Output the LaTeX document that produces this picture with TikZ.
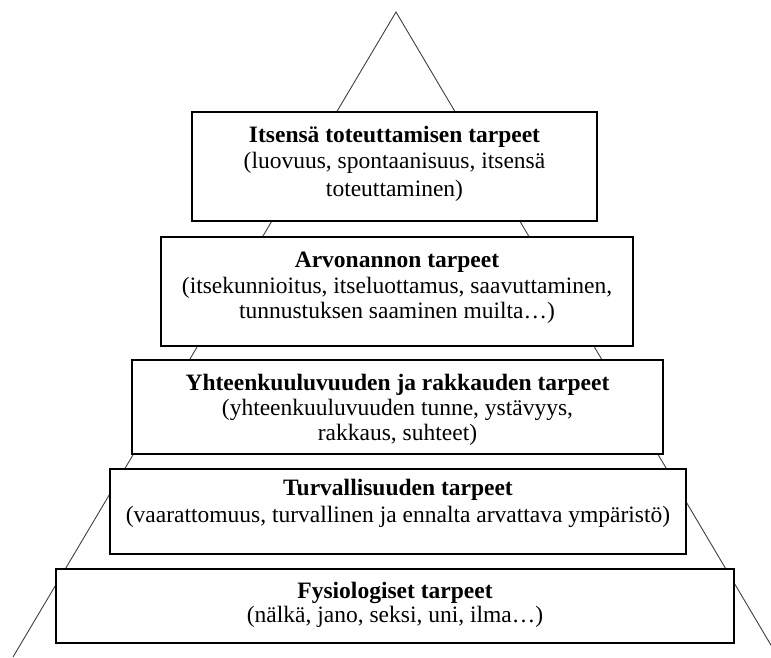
\documentclass[tikz,border=0pt]{standalone}
\usepackage{fontspec}
\setmainfont{Liberation Serif}
\begin{document}
\begin{tikzpicture}[x=1pt,y=-1pt,
  level/.style={draw=black,line width=1.6pt,fill=white,inner sep=0pt,rectangle},
  side/.style={draw=black!75,line width=0.9pt},
  ttl/.style={anchor=base,inner sep=0pt,font=\fontsize{23.5}{26}\selectfont\bfseries},
  sub/.style={anchor=base,inner sep=0pt,font=\fontsize{23.5}{26}\selectfont}]
\useasboundingbox (0,0) rectangle (771,657);
\clip (0,0) rectangle (771,657);
% pyramid sides
\coordinate (apex) at (396,12);
\coordinate (lfoot) at (13,657);
\coordinate (rfoot) at (778,657);
\draw[side] (lfoot) -- (apex) -- (rfoot);
% level boxes
\node[level,minimum width=405pt,minimum height=109pt] (b1) at (394.5,166.5) {};
\node[level,minimum width=472pt,minimum height=109pt] (b2) at (397,291.5) {};
\node[level,minimum width=531pt,minimum height=94pt] (b3) at (397.5,407) {};
\node[level,minimum width=576pt,minimum height=85pt] (b4) at (398,511.5) {};
\node[level,minimum width=678pt,minimum height=74pt] (b5) at (395,606) {};
% texts
\node[ttl] (t1a) at (394.5,142) {Itsensä toteuttamisen tarpeet};
\node[sub] (t1b) at (394.5,168.5) {(luovuus, spontaanisuus, itsensä};
\node[sub] (t1c) at (394.5,196) {toteuttaminen)};
\node[ttl] (t2a) at (397,267) {Arvonannon tarpeet};
\node[sub] (t2b) at (397,293) {(itsekunnioitus, itseluottamus, saavuttaminen,};
\node[sub] (t2c) at (397,318.5) {tunnustuksen saaminen muilta…)};
\node[ttl] (t3a) at (397.5,390) {Yhteenkuuluvuuden ja rakkauden tarpeet};
\node[sub] (t3b) at (397.5,415) {(yhteenkuuluvuuden tunne, ystävyys,};
\node[sub] (t3c) at (397.5,440) {rakkaus, suhteet)};
\node[ttl] (t4a) at (398,495) {Turvallisuuden tarpeet};
\node[sub] (t4b) at (398,522) {(vaarattomuus, turvallinen ja ennalta arvattava ympäristö)};
\node[ttl] (t5a) at (395,598) {Fysiologiset tarpeet};
\node[sub] (t5b) at (395,622) {(nälkä, jano, seksi, uni, ilma…)};
\end{tikzpicture}
\end{document}
